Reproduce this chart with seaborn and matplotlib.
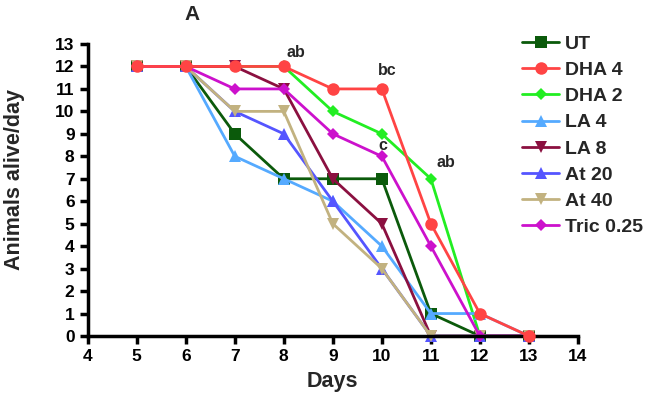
import matplotlib
matplotlib.use("Agg")
import matplotlib.pyplot as plt
import seaborn as sns
import pandas as pd

days = [5, 6, 7, 8, 9, 10, 11, 12, 13]
groups = ["UT", "DHA 4", "DHA 2", "LA 4", "LA 8", "At 20", "At 40", "Tric 0.25"]
ut = [12, 12, 9, 7, 7, 7, 1, 0, 0]
dha4 = [12, 12, 12, 12, 11, 11, 5, 1, 0]
dha2 = [12, 12, 12, 12, 10, 9, 7, 0, 0]
la4 = [12, 12, 8, 7, 6, 4, 1, 1, 0]
la8 = [12, 12, 12, 11, 7, 5, 0, 0, 0]
at20 = [12, 12, 10, 9, 6, 3, 0, 0, 0]
at40 = [12, 12, 10, 10, 5, 3, 0, 0, 0]
tric = [12, 12, 11, 11, 9, 8, 4, 0, 0]
series = [ut, dha4, dha2, la4, la8, at20, at40, tric]

annot_text = ["ab", "bc", "c", "ab"]
annot_day = [8, 10, 10, 11]
annot_val = [12, 11, 8, 7]
annot_offset = [(9, 10), (4, 13), (1, 8), (11, 12)]

colors = {"UT": "#0B5A0B", "DHA 4": "#FF4444", "DHA 2": "#22EE22", "LA 4": "#55AAFF",
          "LA 8": "#8B1040", "At 20": "#5555FF", "At 40": "#C2B280", "Tric 0.25": "#CC11CC"}
markers = {"UT": "s", "DHA 4": "o", "DHA 2": "D", "LA 4": "^", "LA 8": "v",
           "At 20": "^", "At 40": "v", "Tric 0.25": "D"}
msize = {"UT": 8, "DHA 4": 9, "DHA 2": 6, "LA 4": 9, "LA 8": 9, "At 20": 9, "At 40": 9, "Tric 0.25": 6}

rows = []
for g, vals in zip(groups, series):
    for d, v in zip(days, vals):
        rows.append({"Days": d, "Alive": v, "Group": g})
df = pd.DataFrame(rows)

sns.set_style("ticks")
plt.rcParams["font.family"] = ["Liberation Sans", "DejaVu Sans"]
plt.rcParams["font.weight"] = "bold"

fig = plt.figure(figsize=(6.45, 4.0), dpi=100)
ax = fig.add_axes([0.136, 0.16, 0.76, 0.73])

for g in groups:
    sub = df[df["Group"] == g]
    sns.lineplot(data=sub, x="Days", y="Alive", ax=ax, color=colors[g], marker=markers[g],
                 markersize=msize[g], markeredgewidth=0, linewidth=2, label=g, clip_on=False,
                 zorder=3 if g == "DHA 4" else 2)

ax.set_xlim(4, 14)
ax.set_ylim(0, 13)
ax.set_xticks(range(4, 15))
ax.set_yticks(range(0, 14))
for side in ["top", "right"]:
    ax.spines[side].set_visible(False)
for side in ["left", "bottom"]:
    ax.spines[side].set_linewidth(2.5)
    ax.spines[side].set_color("black")
ax.tick_params(axis="both", width=2.5, length=6, labelsize=12.5, colors="black", direction="out")
for lab in ax.get_xticklabels() + ax.get_yticklabels():
    lab.set_fontweight("bold")
ax.set_xlabel("Days", fontsize=15.5, fontweight="bold", labelpad=5)
ax.set_ylabel("Animals alive/day", fontsize=15.5, fontweight="bold")
ax.yaxis.set_label_coords(-0.128, 0.535)

for t, d, v, off in zip(annot_text, annot_day, annot_val, annot_offset):
    ax.annotate(t, (d, v), xytext=off, textcoords="offset points", ha="center",
                va="center", fontsize=11.5, fontweight="bold")

fig.text(0.298, 0.964, "A", fontsize=15, fontweight="bold", ha="center", va="center")

leg = ax.legend(loc="upper left", bbox_to_anchor=(0.886, 1.03), frameon=False, fontsize=14,
                handlelength=1.9, labelspacing=0.44, handletextpad=0.3,
                borderaxespad=0, borderpad=0)
for txt in leg.get_texts():
    txt.set_fontweight("bold")

fig.savefig("out.png", dpi=100)
